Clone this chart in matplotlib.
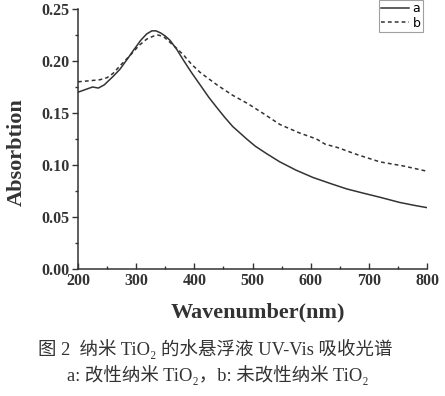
import matplotlib
matplotlib.use("Agg")
import matplotlib.pyplot as plt
from matplotlib.ticker import MultipleLocator

wl_a = [200, 215, 225, 235, 245, 260, 272, 285, 295, 308, 318, 327, 334, 342, 350, 358, 370,
        381, 395, 410, 425, 439, 452, 466, 478, 490, 505, 524, 547, 575, 604, 635, 662, 690, 719,
        753, 780, 800]
abs_a = [0.170, 0.173, 0.175, 0.174, 0.177, 0.185, 0.192, 0.202, 0.210, 0.220, 0.226, 0.229, 0.229,
         0.227, 0.224, 0.220, 0.211, 0.201, 0.189, 0.177, 0.165, 0.155, 0.146, 0.137, 0.131, 0.125,
         0.118, 0.111, 0.103, 0.095, 0.088, 0.082, 0.077, 0.073, 0.069, 0.064, 0.061, 0.059]

wl_b = [200, 220, 238, 250, 260, 275, 289, 305, 318, 330, 338, 348, 358, 370, 381, 395, 410, 439,
        466, 492, 520, 547, 580, 610, 625, 645, 680, 719, 760, 800]
abs_b = [0.180, 0.181, 0.182, 0.184, 0.188, 0.197, 0.205, 0.215, 0.221, 0.224, 0.225, 0.223, 0.218,
         0.212, 0.206, 0.197, 0.189, 0.177, 0.167, 0.159, 0.149, 0.139, 0.131, 0.125, 0.120, 0.117,
         0.110, 0.103, 0.099, 0.094]

xticks = [200, 300, 400, 500, 600, 700, 800]
yticks = [0.00, 0.05, 0.10, 0.15, 0.20, 0.25]

serif = ['Liberation Serif', 'DejaVu Serif']
cjk = ['Liberation Serif', 'Noto Sans CJK SC', 'DejaVu Sans']
ink = '#333333'

fig = plt.figure(figsize=(4.45, 3.96), dpi=100)
ax = fig.add_axes([78 / 445, 1 - 269 / 396, 349 / 445, 260 / 396])

ax.plot(wl_a, abs_a, color=ink, lw=1.1, ls='-', label='a')
ax.plot(wl_b, abs_b, color=ink, lw=1.1, ls=(0, (2.5, 2)), label='b')

ax.set_xlim(200, 800)
ax.set_ylim(0, 0.25)
ax.set_xticks(xticks)
ax.set_yticks(yticks)
ax.xaxis.set_minor_locator(MultipleLocator(50))
ax.yaxis.set_minor_locator(MultipleLocator(0.025))
ax.set_xticklabels([str(v) for v in xticks], fontfamily=serif, fontweight='bold', fontsize=11.5, color=ink)
ax.set_yticklabels(['%.2f' % v for v in yticks], fontfamily=serif, fontweight='bold', fontsize=11.5, color=ink)
ax.tick_params(axis='x', which='major', direction='in', length=4, width=1, color=ink, pad=3)
ax.tick_params(axis='x', which='minor', direction='in', length=2.5, width=1, color=ink)
ax.tick_params(axis='y', which='major', direction='out', length=4, width=1, color=ink, pad=2)
ax.tick_params(axis='y', which='minor', direction='out', length=2.5, width=1, color=ink)

for s in ['top', 'right']:
    ax.spines[s].set_visible(False)
for s in ['left', 'bottom']:
    ax.spines[s].set_color(ink)
    ax.spines[s].set_linewidth(1.1)

leg = ax.legend(loc='upper right', bbox_to_anchor=(423 / 445, 1.0), bbox_transform=fig.transFigure,
                frameon=True, fancybox=False, fontsize=9, handlelength=2.2, handletextpad=0.3,
                borderpad=0.2, labelspacing=0.1, borderaxespad=0)
leg.get_frame().set_edgecolor('#888888')
leg.get_frame().set_linewidth(0.8)

fig.text(258 / 445, 1 - 312 / 396, 'Wavenumber(nm)', ha='center', va='center',
         fontfamily=serif, fontweight='bold', fontsize=16, color=ink)
fig.text(17 / 445, 1 - 152 / 396, 'Absorbtion', ha='center', va='center', rotation=90,
         fontfamily=serif, fontweight='bold', fontsize=16, color=ink)

fig.text(215 / 445, 1 - 349 / 396, '图 2  纳米 TiO₂ 的水悬浮液 UV-Vis 吸收光谱', ha='center', va='center',
         fontfamily=cjk, fontsize=13.3, color=ink)
fig.text(218 / 445, 1 - 375 / 396, 'a: 改性纳米 TiO₂，b: 未改性纳米 TiO₂', ha='center', va='center',
         fontfamily=cjk, fontsize=13.3, color=ink)

fig.savefig('out.png', dpi=100, facecolor='white')
